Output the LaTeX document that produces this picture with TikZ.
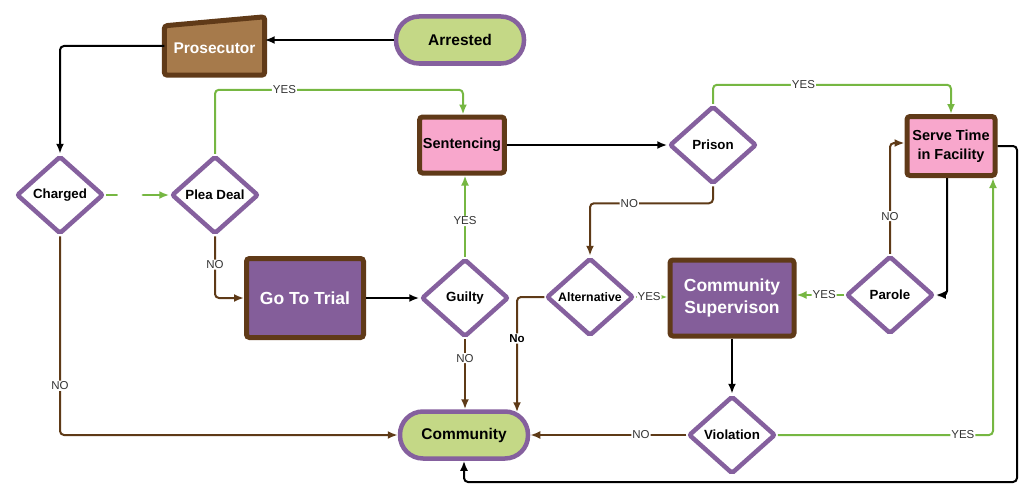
\documentclass[tikz,border=0pt]{standalone}
\usepackage{fontspec}
\setmainfont{Liberation Sans}
\usetikzlibrary{shapes.geometric, arrows.meta}
\definecolor{grn}{RGB}{118,183,66}
\definecolor{brn}{RGB}{94,58,23}
\definecolor{purp}{RGB}{133,96,158}
\definecolor{pillg}{RGB}{196,216,134}
\definecolor{pnk}{RGB}{248,167,204}
\definecolor{prosf}{RGB}{166,122,75}
\definecolor{boxb}{RGB}{96,58,24}
\definecolor{purpf}{RGB}{132,94,154}
\definecolor{lblg}{RGB}{51,51,51}

\begin{document}
\begin{tikzpicture}[x=1pt, y=-1pt, >={Latex[length=10pt,width=8pt]}, dia/.style = {draw=purp, line width=4.5, fill=white, diamond, aspect=1.1, minimum width=87, minimum height=78, inner sep=0, rounded corners=2, font=\fontsize{13.3}{15}\selectfont\bfseries}, pill/.style = {draw=purp, line width=4.5, fill=pillg, rounded corners=23, minimum width=128, minimum height=47, font=\fontsize{15.5}{17}\selectfont\bfseries}, pinkbox/.style = {draw=boxb, line width=5, fill=pnk, rounded corners=3, align=center, font=\fontsize{14.5}{19}\selectfont\bfseries}, purpbox/.style = {draw=boxb, line width=5, fill=purpf, text=white, rounded corners=3, align=center, font=\fontsize{17.5}{22}\selectfont\bfseries}, lbl/.style = {fill=white, inner sep=1, text=lblg, font=\fontsize{11.5}{12}\selectfont}, yes/.style = {draw=grn, line width=2, rounded corners=4}, no/.style = {draw=brn, line width=2, rounded corners=4}, go/.style = {draw=black, line width=2, rounded corners=4}]
                \useasboundingbox (0,0) rectangle (1027,495);
                \node[pill] (arr) at (460,40) {Arrested};
                \node[minimum width=100, minimum height=58, inner sep=0] (pros) at (214.5,46) {};
                \draw[draw=boxb, fill=prosf, line width=5, rounded corners=3] (pros.south west) -- ([yshift=-9]pros.north west) -- (pros.north east) -- (pros.south east) -- cycle;
                \node[text=white, font=\fontsize{15.5}{17}\selectfont\bfseries] at ([yshift=-2]pros.center) {Prosecutor};
                \node[dia] (chg) at (60,195) {Charged};
                \node[dia] (plea) at (215,195) {Plea Deal};
                \node[pinkbox, minimum width=84, minimum height=56] (sent) at (462,145) {Sentencing};
                \node[dia] (prison) at (713,145) {Prison};
                \node[pinkbox, minimum width=88, minimum height=59] (serve) at (951,146) {Serve Time\\in Facility};
                \node[purpbox, minimum width=117, minimum height=79] (trial) at (305,298) {Go To Trial};
                \node[dia] (guilty) at (465,298) {Guilty};
                \node[dia, font=\fontsize{12.3}{14}\selectfont\bfseries] (alt) at (590,297) {Alternative};
                \node[purpbox, minimum width=124, minimum height=76] (csup) at (732,298) {Community\\Supervison};
                \node[dia] (parole) at (890,295) {Parole};
                \node[pill] (comm) at (464,435) {Community};
                \node[dia] (viol) at (732,435) {Violation};
                \coordinate (lp) at (1017,482);
                \draw[go, ->] (arr.west) -- (arr.west -| pros.east);
                \draw[go, ->] (pros.west) -| (chg.north);
                \draw[yes, ->] (chg.east) -- node[pos=0.38, fill=white, minimum width=25, minimum height=6, inner sep=0] {} (plea.west);
                \draw[yes, ->] (plea.north) -- ++(0,-64) -| node[lbl, pos=0.14] {YES} ([xshift=1]sent.north);
                \draw[no, ->] (plea.south) |- node[lbl, pos=0.23] {NO} (trial.west);
                \draw[go, ->] (trial.east) -- (guilty.west);
                \draw[yes, ->] (guilty.north) -- node[lbl, pos=0.44] {YES} (guilty.north |- sent.south);
                \draw[no, ->] (guilty.south) -- node[lbl, pos=0.27] {NO} (guilty.south |- comm.north);
                \draw[go, ->] (sent.east) -- (prison.west);
                \draw[yes, ->] (prison.north) -- ++(0,-19) -| node[lbl, pos=0.19] {YES} (serve.north);
                \draw[no, ->] (prison.south) -- ++(0,17) -| node[lbl, pos=0.34] {NO} (alt.north);
                \draw[no, ->] (alt.west) -| node[lbl, pos=0.68, text=black, font=\fontsize{11.5}{12}\selectfont\bfseries] {No} ([shift={(53,3)}]comm.north);
                \draw[yes, ->] (alt.east) -- node[lbl, pos=0.42] {YES} (alt.east -| csup.west);
                \draw[yes, ->] (parole.west) -- node[lbl, pos=0.42] {YES} (parole.west -| csup.east);
                \draw[no, ->] (parole.north) |- node[lbl, pos=0.17] {NO} ([yshift=3]serve.west);
                \draw[go, ->] ([xshift=-4]serve.south) |- (parole.east);
                \draw[go, ->] (csup.south) -- (viol.north);
                \draw[no, ->] (viol.west) -- node[lbl, pos=0.29] {NO} (comm.east);
                \draw[yes, ->] (viol.east) -| node[lbl, pos=0.43] {YES} ([xshift=42]serve.south);
                \draw[go, ->] (serve.east) -| (lp) -| (comm.south);
                \draw[no, ->] (chg.south) |- node[lbl, pos=0.376] {NO} (comm.west);
            \end{tikzpicture}
\end{document}
